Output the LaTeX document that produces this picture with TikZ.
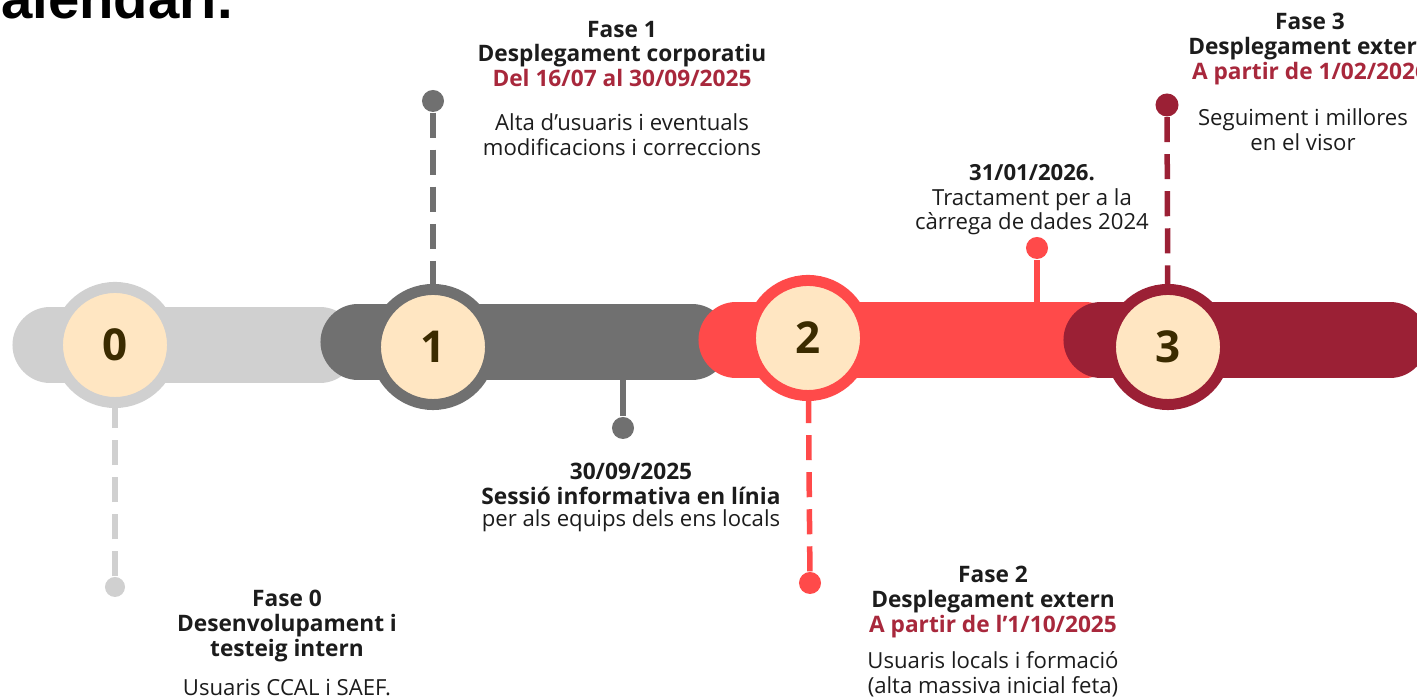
\documentclass[tikz,border=0pt]{standalone}
\usepackage{fontspec}
\setmainfont{Open Sans}
\newfontfamily\titlefont{Liberation Sans}
\usetikzlibrary{positioning}
\definecolor{lightgr}{HTML}{D0D0D0}
\definecolor{darkgr}{HTML}{707070}
\definecolor{redph}{HTML}{FF4A4A}
\definecolor{wine}{HTML}{9B2035}
\definecolor{cream}{HTML}{FFE6C2}
\definecolor{digit}{HTML}{3B2B00}
\definecolor{datered}{HTML}{A8283C}
\definecolor{ink}{HTML}{1C1C1C}

\begin{document}
\begin{tikzpicture}[x=0.01cm, y=-0.01cm,
  bar/.style={line width=0.75cm, line cap=round},
  phase/.style={circle, fill=cream, line width=0.11cm, minimum size=1.15cm, inner sep=0pt,
    text=digit, font=\fontsize{12.5}{12.5}\selectfont\bfseries},
  dot/.style={circle, minimum size=0.22cm, inner sep=0pt},
  pin/.style={line width=0.055cm, dash pattern=on 0.25cm off 0.12cm},
  stem/.style={line width=0.055cm},
  head/.style={align=center, text=ink, inner sep=0pt, font=\fontsize{6.45}{7}\selectfont\bfseries},
  body/.style={align=center, text=ink, inner sep=0pt, font=\fontsize{6.3}{7}\selectfont},
]
\useasboundingbox (0,0) rectangle (1417,698);
\clip (0,0) rectangle (1417,698);

\node[anchor=base west, inner sep=0pt, font=\titlefont\fontsize{16}{16}\selectfont\bfseries] (title) at (-40,19) {Calendari.};

% timeline bars and phases
\coordinate (b0a) at (50,345); \coordinate (b0b) at (320,345);
\draw[bar, lightgr] (b0a) -- (b0b);
\node[phase, draw=lightgr] (c0) at (115,345) {0};

\coordinate (b1a) at (358,342); \coordinate (b1b) at (692,342);
\draw[bar, darkgr] (b1a) -- (b1b);
\node[phase, draw=darkgr] (c1) at (433,347) {1};

\coordinate (b2a) at (736,340); \coordinate (b2b) at (1085,340);
\draw[bar, redph] (b2a) -- (b2b);
\node[phase, draw=redph] (c2) at (808,338) {2};

\coordinate (b3a) at (1101,340); \coordinate (b3b) at (1390,340);
\draw[bar, wine] (b3a) -- (b3b);
\node[phase, draw=wine] (c3) at (1168,347) {3};

% pins
\node[dot, fill=lightgr, minimum size=0.2cm] (d0) at (115,587) {};
\node[dot, fill=darkgr] (d1) at (433,101) {};
\node[dot, fill=darkgr] (d15) at (623,428) {};
\node[dot, fill=redph] (d2) at (810,583) {};
\node[dot, fill=redph] (d25) at (1037,248) {};
\node[dot, fill=wine, minimum size=0.23cm] (d3) at (1167,105) {};
\coordinate (s1) at (623,378);
\coordinate (s2) at (1037,304);

\draw[pin, lightgr] (d0) -- (c0);
\draw[pin, darkgr] (d1) -- (c1);
\draw[pin, redph] (d2) -- (c2);
\draw[pin, wine] (d3) -- (c3);
\draw[stem, darkgr] (s1) -- (d15);
\draw[stem, redph] (s2) -- (d25);

% texts
\node[head] (h0) at (287,626) {Fase 0\\Desenvolupament i\\testeig intern};
\node[body] (t0) at (287,688) {Usuaris CCAL i SAEF.};

\node[head] (h1) at (622,54) {Fase 1\\Desplegament corporatiu\\\textcolor{datered}{Del 16/07 al 30/09/2025}};
\node[body] (t1) at (622,135) {Alta d’usuaris i eventuals\\modificacions i correccions};

\node[head] (h15) at (631,484) {30/09/2025\\Sessió informativa en línia};
\node[body] (t15) at (631,521) {per als equips dels ens locals};

\node[head] (h2) at (993,602) {Fase 2\\Desplegament extern\\\textcolor{datered}{A partir de l’1/10/2025}};
\node[body] (t2) at (993,674) {Usuaris locals i formació\\(alta massiva inicial feta)};

\node[body] (t25) at (1032,200) {\textbf{31/01/2026.}\\Tractament per a la\\càrrega de dades 2024};

\node[head] (h3) at (1310,49) {Fase 3\\Desplegament extern\\\textcolor{datered}{A partir de 1/02/2026}};
\node[body] (t3) at (1303,130) {Seguiment i millores\\en el visor};
\end{tikzpicture}
\end{document}
